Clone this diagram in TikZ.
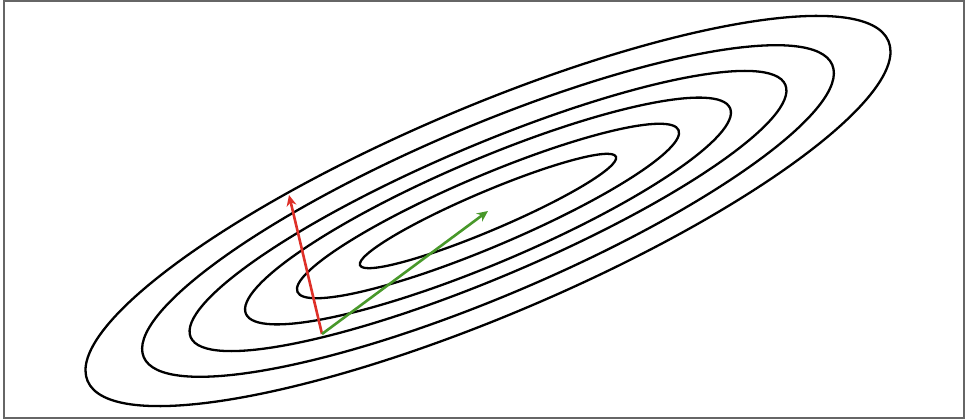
\documentclass[tikz,border=0pt]{standalone}
\usepackage{tikz}
\usetikzlibrary{arrows.meta}
\definecolor{vecred}{RGB}{222,48,40}
\definecolor{vecgreen}{RGB}{72,152,42}

\begin{document}
\begin{tikzpicture}[
    x=1pt, y=1pt,
    contour/.style={draw=black, line width=2.3pt},
    vec/.style={line width=2.6pt, -{Stealth[length=11pt, width=10pt]}},
    frame/.style={draw=black!60, line width=1.2pt}
]
\useasboundingbox (0,0) rectangle (966,420);
\draw[frame] (4,2) rectangle (964,419);

% centre of the contours and start point
\coordinate (o) at (488,209);
\coordinate (p) at (322,86);
\coordinate (r) at (289,225);

% contour ellipses
\foreach \a/\b in {139/19.4, 207/35.5, 263/52, 323/66, 374/85, 435/104}
  \draw[contour, rotate around={23:(o)}] (o) ellipse [x radius=\a, y radius=\b];

% vectors
\draw[vec, vecred] (p) -- (r);
\draw[vec, vecgreen] (p) -- (o);
\end{tikzpicture}
\end{document}
